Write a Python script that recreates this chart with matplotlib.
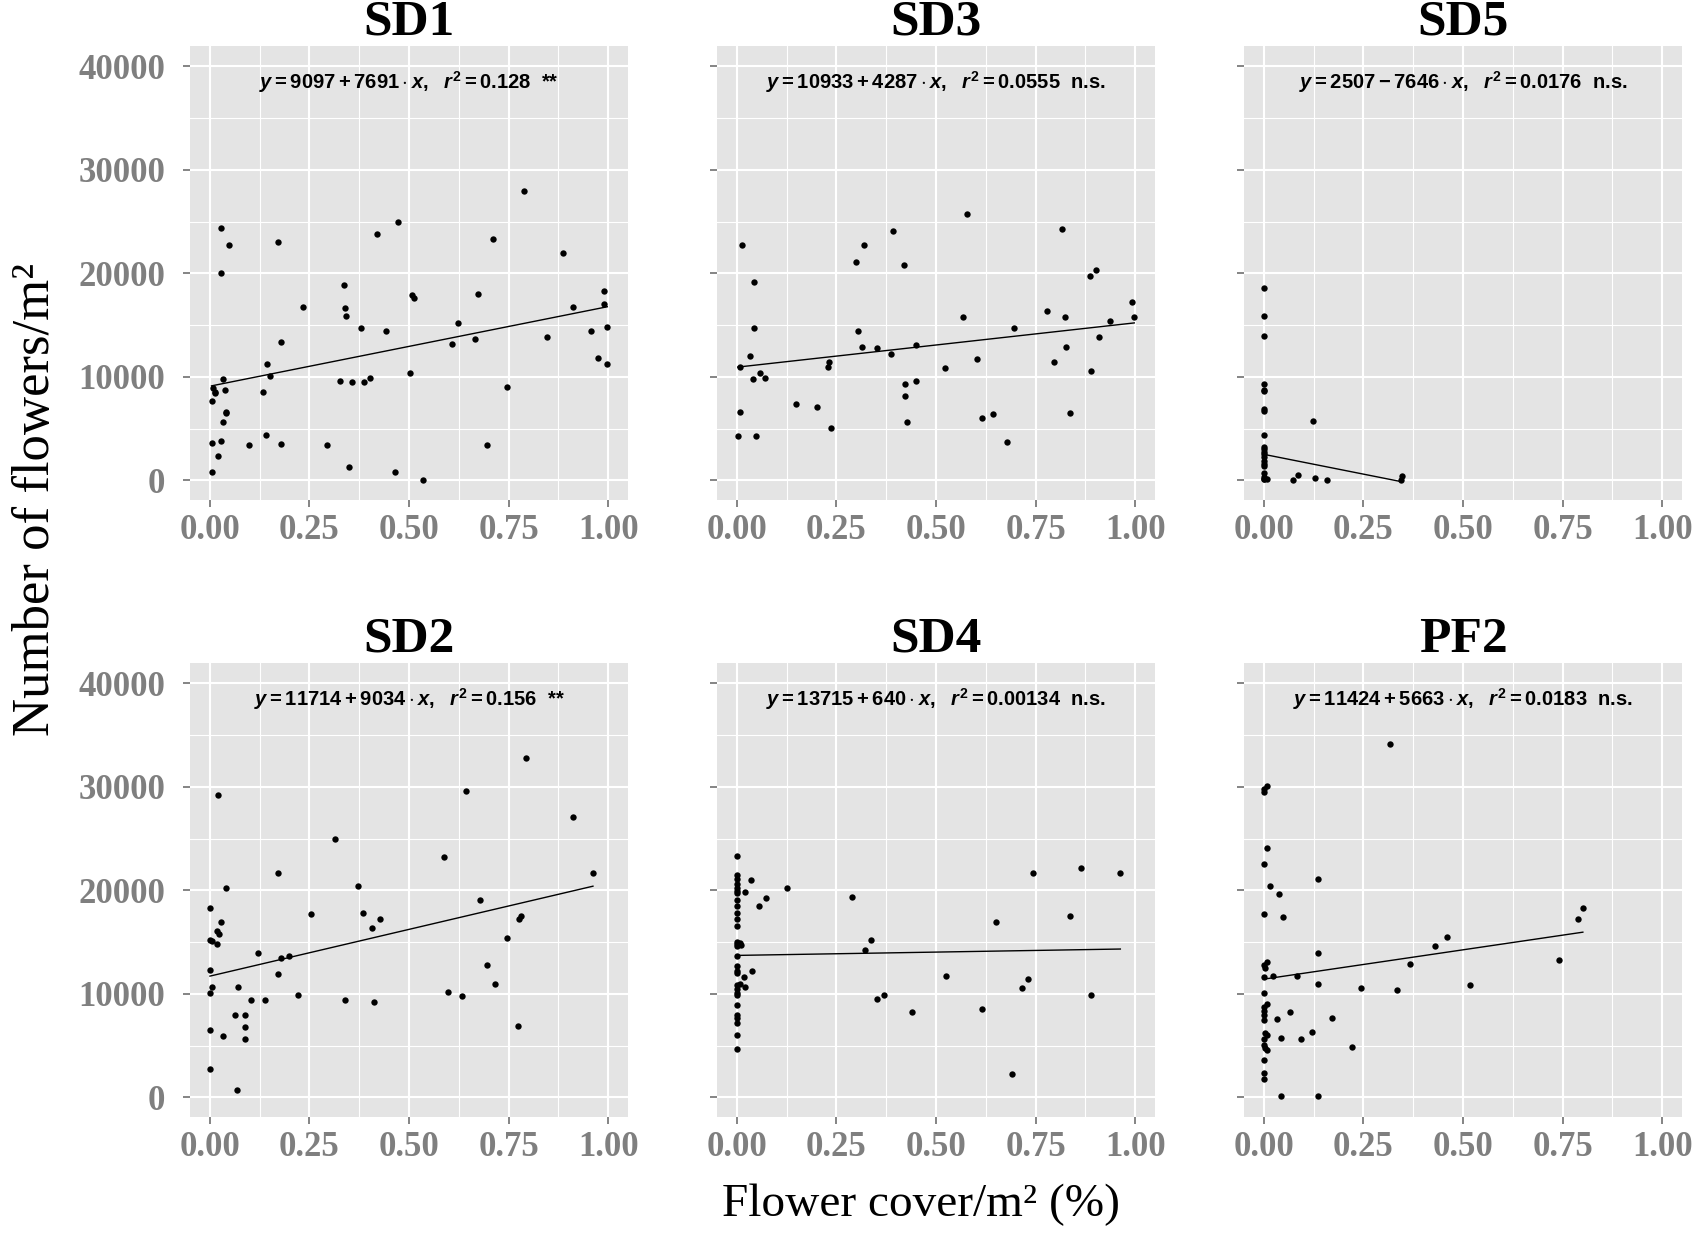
import matplotlib.pyplot as plt
import numpy as np
from matplotlib.ticker import MultipleLocator

# bold sans for the regression labels
plt.rcParams['mathtext.fontset'] = 'custom'
plt.rcParams['mathtext.rm'] = 'Liberation Sans:bold'
plt.rcParams['mathtext.it'] = 'Liberation Sans:italic:bold'
plt.rcParams['mathtext.bf'] = 'Liberation Sans:bold'

# ---- data ----
sd1_x = [0.028, 0.047, 0.028, 0.172, 0.472, 0.419, 0.790, 0.712, 0.886, 0.337,
         0.233, 0.339, 0.341, 0.508, 0.513, 0.673, 0.991, 0.991, 0.912, 0.379,
         0.442, 0.623, 0.998, 0.958, 0.179, 0.607, 0.665, 0.846, 0.975, 0.998,
         0.144, 0.151, 0.503, 0.403, 0.326, 0.356, 0.387, 0.033, 0.133, 0.746,
         0.007, 0.013, 0.013, 0.037, 0.004, 0.040, 0.040, 0.033, 0.140, 0.005,
         0.028, 0.098, 0.179, 0.295, 0.696, 0.021, 0.349, 0.005, 0.465, 0.534]
sd1_y = [24420, 22760, 20030, 23040, 24970, 23800, 27980, 23350, 22000, 18890,
         16790, 16610, 15890, 17890, 17580, 18000, 18310, 17060, 16790, 14680,
         14400, 15160, 14850, 14400, 13370, 13200, 13640, 13820, 11850, 11260,
         11260, 10090, 10360, 9910, 9640, 9460, 9460, 9780, 8570, 9050,
         8910, 8570, 8460, 8740, 7700, 6560, 6460, 5600, 4420, 3630,
         3800, 3390, 3520, 3390, 3390, 2310, 1280, 830, 830, 70]

sd3_x = [0.013, 0.044, 0.044, 0.032, 0.008, 0.040, 0.058, 0.071, 0.008, 0.002,
         0.048, 0.148, 0.201, 0.228, 0.232, 0.235, 0.299, 0.318, 0.303, 0.314,
         0.353, 0.386, 0.391, 0.419, 0.422, 0.422, 0.427, 0.449, 0.449, 0.523,
         0.577, 0.569, 0.604, 0.616, 0.642, 0.678, 0.697, 0.780, 0.797, 0.816,
         0.824, 0.827, 0.836, 0.886, 0.902, 0.890, 0.909, 0.937, 0.993, 0.998]
sd3_y = [22760, 19170, 14680, 12020, 10980, 9780, 10360, 9910, 6630, 4280,
         4280, 7390, 7080, 10980, 11430, 5010, 21110, 22760, 14400, 12920,
         12780, 12160, 24110, 20830, 9330, 8120, 5600, 13060, 9640, 10810,
         25730, 15750, 11710, 6050, 6360, 3660, 14680, 16340, 11430, 24250,
         15750, 12920, 6490, 19760, 20350, 10540, 13820, 15440, 17240, 15750]

sd5_x = [0.0, 0.0, 0.0, 0.0, 0.0, 0.0, 0.0, 0.0, 0.0, 0.0,
         0.0, 0.0, 0.0, 0.0, 0.0, 0.0, 0.0, 0.0, 0.0, 0.0,
         0.0, 0.007, 0.074, 0.085, 0.124, 0.128, 0.158, 0.343, 0.347]
sd5_y = [18550, 15890, 13960, 9260, 8740, 8600, 6870, 6670, 4390, 3210,
         3000, 2760, 2520, 2250, 1900, 1620, 1380, 690, 345, 170,
         100, 170, 70, 520, 5770, 240, 70, 70, 410]

sd2_x = [0.021, 0.040, 0.001, 0.028, 0.018, 0.023, 0.000, 0.005, 0.018, 0.000,
         0.005, 0.000, 0.001, 0.033, 0.001, 0.067, 0.063, 0.087, 0.087, 0.087,
         0.070, 0.103, 0.137, 0.120, 0.172, 0.172, 0.179, 0.199, 0.222, 0.253,
         0.315, 0.338, 0.372, 0.384, 0.407, 0.426, 0.411, 0.588, 0.599, 0.634,
         0.643, 0.679, 0.696, 0.715, 0.746, 0.773, 0.776, 0.781, 0.793, 0.912,
         0.962]
sd2_y = [29190, 20210, 18270, 16930, 16030, 15790, 15160, 15100, 14850, 12330,
         10670, 10050, 6490, 5910, 2760, 690, 7980, 7980, 6800, 5600,
         10670, 9360, 9360, 13960, 21690, 11880, 13510, 13680, 9910, 17690,
         25010, 9360, 20380, 17820, 16340, 17240, 9190, 23210, 10220, 9780,
         29600, 19030, 12780, 10980, 15440, 6940, 17240, 17550, 32750, 27080,
         21690]

sd4_x = [0.0, 0.0, 0.0, 0.0, 0.0, 0.0, 0.0, 0.0, 0.0, 0.0,
         0.0, 0.0, 0.0, 0.0, 0.0, 0.0, 0.0, 0.0, 0.0, 0.0,
         0.0, 0.0, 0.0, 0.0, 0.0, 0.0, 0.0, 0.0, 0.0,
         0.007, 0.011, 0.008, 0.017, 0.021, 0.021, 0.035, 0.055, 0.039, 0.074,
         0.125, 0.290, 0.322, 0.336, 0.352, 0.369, 0.439, 0.526, 0.615, 0.650,
         0.692, 0.715, 0.731, 0.744, 0.836, 0.863, 0.890, 0.963]
sd4_y = [23350, 21520, 21070, 20590, 20210, 19970, 19720, 19100, 18480, 17790,
         17200, 16510, 15030, 14850, 14610, 13640, 12710, 12190, 12020, 10810,
         10470, 10120, 9910, 8880, 7980, 7700, 7150, 6050, 4660,
         14890, 14680, 10980, 11610, 10640, 19800, 21000, 18450, 12190, 19310,
         20210, 19340, 14230, 15160, 9460, 9910, 8260, 11740, 8570, 16930,
         2280, 10540, 11400, 21690, 17550, 22140, 9910, 21690]

pf2_x = [0.008, 0.0, 0.0, 0.007, 0.0, 0.015, 0.0, 0.007, 0.0, 0.0025,
         0.0, 0.0, 0.007, 0.0, 0.0, 0.0, 0.0, 0.0025, 0.008, 0.0,
         0.0, 0.0025, 0.008, 0.0, 0.0, 0.0,
         0.023, 0.038, 0.047, 0.033, 0.042, 0.042, 0.065, 0.084, 0.092, 0.120,
         0.135, 0.135, 0.135, 0.135, 0.170, 0.220, 0.244, 0.317, 0.333, 0.367,
         0.429, 0.460, 0.518, 0.742, 0.788, 0.801]
pf2_y = [30120, 29810, 29460, 24080, 22590, 20380, 17690, 13090, 12780, 12540,
         11610, 10050, 8980, 8740, 8390, 7980, 7430, 6220, 6050, 5630,
         5010, 4770, 4530, 3630, 2350, 1730,
         11740, 19620, 17380, 7530, 5730, 100, 8290, 11740, 5600, 6320,
         21110, 13920, 10950, 100, 7700, 4870, 10540, 34130, 10400, 12920,
         14580, 15470, 10810, 13230, 17240, 18270]

site_names = ['SD1', 'SD3', 'SD5', 'SD2', 'SD4', 'PF2']
site_x = [sd1_x, sd3_x, sd5_x, sd2_x, sd4_x, pf2_x]
site_y = [sd1_y, sd3_y, sd5_y, sd2_y, sd4_y, pf2_y]
intercepts = [9097, 10933, 2507, 11714, 13715, 11424]
slopes = [7691, 4287, -7646, 9034, 640, 5663]
r2_text = ['0.128', '0.0555', '0.0176', '0.156', '0.00134', '0.0183']
signif = ['**', 'n.s.', 'n.s.', '**', 'n.s.', 'n.s.']

x_ticks = [0, 0.25, 0.5, 0.75, 1.0]
x_tick_labels = ['0.00', '0.25', '0.50', '0.75', '1.00']
y_ticks = [0, 10000, 20000, 30000, 40000]

# ---- layout ----
lefts = [0.1118, 0.4218, 0.7318]
bottoms = [0.5955, 0.0963]
w, h = 0.2576, 0.3675

fig = plt.figure(figsize=(17, 12.36), dpi=100)

for i in range(6):
    row, col = divmod(i, 3)
    ax = fig.add_axes([lefts[col], bottoms[row], w, h])
    ax.set_facecolor('#E4E4E4')
    for s in ax.spines.values():
        s.set_visible(False)
    ax.set_xlim(-0.05, 1.05)
    ax.set_ylim(-1900, 42000)
    ax.set_xticks(x_ticks)
    ax.set_xticklabels(x_tick_labels)
    ax.set_yticks(y_ticks)
    ax.xaxis.set_minor_locator(MultipleLocator(0.125))
    ax.yaxis.set_minor_locator(MultipleLocator(5000))
    ax.grid(which='major', color='white', lw=1.5)
    ax.grid(which='minor', color='white', lw=0.8)
    ax.set_axisbelow(True)
    ax.tick_params(which='minor', length=0)
    ax.tick_params(which='major', length=5, width=1.2, color='#707070',
                   labelsize=25, labelcolor='#7F7F7F')
    ax.tick_params(axis='y', pad=13)
    ax.tick_params(axis='x', pad=5)
    for lab in ax.get_xticklabels() + ax.get_yticklabels():
        lab.set_family('Liberation Serif')
        lab.set_fontweight('bold')
    if col > 0:
        ax.set_yticklabels([])

    xs = np.array(site_x[i])
    ys = np.array(site_y[i])
    ax.scatter(xs, ys, s=21, color='black', linewidths=0, zorder=3)
    xl = np.array([xs.min(), xs.max()])
    ax.plot(xl, intercepts[i] + slopes[i] * xl, color='black', lw=1.0, zorder=3)

    sign = '+' if slopes[i] >= 0 else '-'
    eq = (r'$y = %d %s %d \cdot x,\ \ r^2 = %s$  %s'
          % (intercepts[i], sign, abs(slopes[i]), r2_text[i], signif[i]))
    ax.text(0.5, 38500, eq, ha='center', va='center', fontsize=14.5,
            family='Liberation Sans', fontweight='bold')

    ax.set_title(site_names[i], fontsize=37, fontweight='bold',
                 family='Liberation Serif', pad=4)

fig.text(0.021, 0.596, 'Number of flowers/m²', rotation=90, ha='center',
         va='center', fontsize=38, family='Liberation Serif')
fig.text(0.542, 0.025, 'Flower cover/m² (%)', ha='center', va='center',
         fontsize=34, family='Liberation Serif')

fig.savefig('out.png', dpi=100)
